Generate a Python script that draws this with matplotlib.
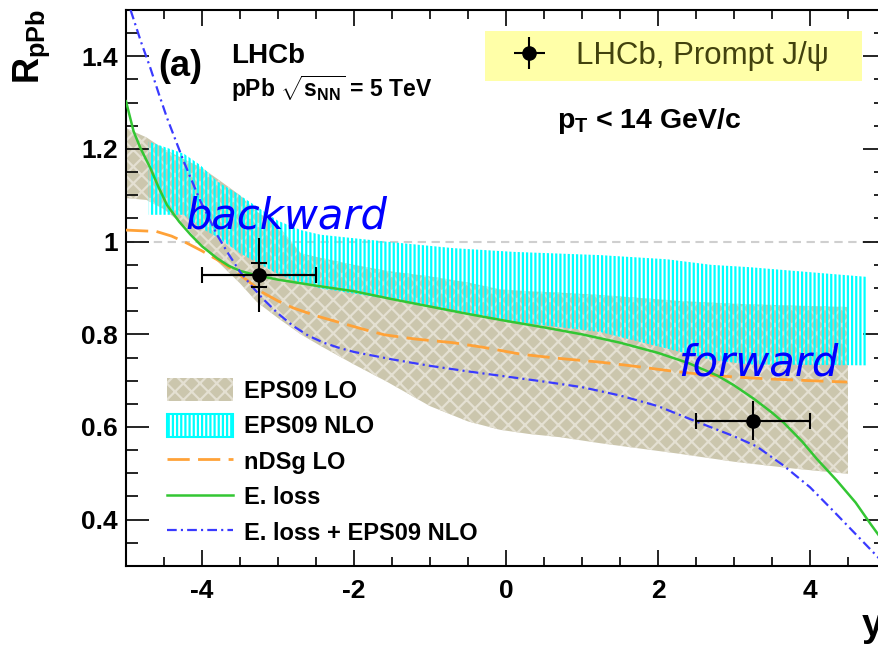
import numpy as np
import matplotlib
matplotlib.use('Agg')
import matplotlib.pyplot as plt
from matplotlib.patches import Patch
from matplotlib.lines import Line2D
from matplotlib.ticker import MultipleLocator, FuncFormatter

plt.rcParams['font.family'] = 'Liberation Sans'
plt.rcParams['font.weight'] = 'bold'
plt.rcParams['axes.unicode_minus'] = False
plt.rcParams['mathtext.fontset'] = 'custom'
plt.rcParams['mathtext.rm'] = 'Liberation Sans:bold'
plt.rcParams['mathtext.it'] = 'Liberation Sans:bold'
plt.rcParams['mathtext.bf'] = 'Liberation Sans:bold'
plt.rcParams['hatch.linewidth'] = 1.6
plt.rcParams['lines.scale_dashes'] = False

# LHCb prompt J/psi points
data_y = [-3.25, 3.25]
data_r = [0.928, 0.614]
data_ylo = [-4.0, 2.5]
data_yhi = [-2.5, 4.0]
err_tot = [0.08, 0.043]
err_stat = [0.025, 0.0]

# EPS09 LO band
lo_x = [-5.0, -4.73, -4.5, -4.2, -4.0, -3.75, -3.5, -3.28, -3.0, -2.7, -2.44, -2.0, -1.57,
        -1.0, -0.5, -0.08, 0.3, 0.71, 1.24, 2.29, 3.0, 3.8, 4.5]
lo_low = [1.094, 1.09, 1.07, 1.03, 0.99, 0.95, 0.91, 0.87, 0.835, 0.80, 0.775, 0.735, 0.698,
          0.645, 0.612, 0.594, 0.585, 0.578, 0.565, 0.542, 0.525, 0.51, 0.499]
lo_up = [1.245, 1.225, 1.20, 1.175, 1.159, 1.13, 1.10, 1.065, 1.035, 0.975, 0.965, 0.95, 0.937,
         0.925, 0.912, 0.897, 0.893, 0.89, 0.885, 0.872, 0.866, 0.862, 0.859]

# EPS09 NLO band
nlo_x = [-4.7, -4.24, -4.02, -3.8, -3.5, -3.0, -2.7, -2.44, -1.57, -0.69, 0.1, 1.24, 2.12, 2.7, 3.2, 4.75]
nlo_low = [1.058, 1.058, 1.03, 1.01, 0.975, 0.93, 0.91, 0.899, 0.877, 0.848, 0.827, 0.805, 0.769, 0.745, 0.735, 0.733]
nlo_up = [1.216, 1.19, 1.165, 1.13, 1.10, 1.045, 1.025, 1.015, 1.0, 0.986, 0.978, 0.971, 0.962, 0.95, 0.945, 0.924]

# nDSg LO
nds_x = [-5.0, -4.6, -4.4, -4.2, -4.0, -3.8, -3.6, -3.4, -3.2, -3.0, -2.8, -2.5, -2.2, -1.9, -1.6,
         -1.2, -0.7, -0.3, 0.2, 0.7, 1.24, 1.7, 2.12, 2.6, 3.0, 3.43, 4.0, 4.49]
nds_r = [1.025, 1.022, 1.012, 0.997, 0.98, 0.961, 0.94, 0.916, 0.89, 0.872, 0.857, 0.84, 0.826, 0.812, 0.799,
         0.79, 0.782, 0.772, 0.757, 0.748, 0.740, 0.731, 0.722, 0.713, 0.708, 0.704, 0.700, 0.697]

# E. loss
el_x = [-5.0, -4.9, -4.81, -4.68, -4.57, -4.46, -4.3, -4.15, -4.0, -3.8, -3.65, -3.5, -3.3, -3.0, -2.5,
        -2.0, -1.5, -1.0, -0.5, 0.0, 0.5, 1.0, 1.5, 2.0, 2.4, 2.78, 3.0, 3.26, 3.5, 3.65, 3.9, 4.09,
        4.35, 4.6, 4.8, 5.0]
el_r = [1.303, 1.238, 1.202, 1.159, 1.117, 1.079, 1.043, 1.015, 0.99, 0.964, 0.948, 0.937, 0.928, 0.918, 0.905,
        0.893, 0.876, 0.860, 0.844, 0.829, 0.815, 0.80, 0.782, 0.760, 0.738, 0.711, 0.69, 0.661, 0.631, 0.610,
        0.568, 0.531, 0.485, 0.437, 0.39, 0.345]

# E. loss + EPS09 NLO
eln_x = [-4.94, -4.8, -4.68, -4.57, -4.46, -4.35, -4.24, -4.13, -4.02, -3.9, -3.8, -3.65, -3.5, -3.35,
         -3.2, -3.0, -2.8, -2.6, -2.4, -2.2, -2.0, -1.5, -1.0, -0.5, 0.0, 0.5, 1.0, 1.5, 2.0, 2.5, 3.0,
         3.3, 3.65, 4.0, 4.3, 4.6, 4.9, 5.0]
eln_r = [1.50, 1.43, 1.375, 1.32, 1.267, 1.22, 1.173, 1.13, 1.087, 1.048, 1.014, 0.973, 0.935, 0.905,
         0.877, 0.845, 0.818, 0.797, 0.782, 0.771, 0.762, 0.746, 0.732, 0.720, 0.709, 0.698, 0.686, 0.668,
         0.645, 0.612, 0.580, 0.558, 0.517, 0.470, 0.420, 0.369, 0.318, 0.30]

tan = '#cbc6ad'
tan_pat = '#e4e0d2'

fig = plt.figure(figsize=(8.79, 6.45), dpi=100)
ax = fig.add_axes([126/879, 79/645, 760/879, 556/645])
ax.set_xlim(-5, 5)
ax.set_ylim(0.3, 1.5)

ax.axhline(1.0, color='#cfcfcf', lw=1.5, ls=(0, (6, 4)), zorder=0.5)

ax.fill_between(lo_x, lo_low, lo_up, facecolor=tan, edgecolor=tan_pat,
                hatch='xx', linewidth=0, zorder=1)
ax.fill_between(nlo_x, nlo_low, nlo_up, facecolor='none', edgecolor='#00ffff',
                hatch='||||', linewidth=0, zorder=2)

ax.plot(nds_x, nds_r, color='#ffa238', lw=2, dashes=(16, 6), zorder=3)
ax.plot(el_x, el_r, color='#33c633', lw=1.8, zorder=4)
ax.plot(eln_x, eln_r, color='#3a3aff', lw=1.6, dashes=(7, 3, 1.5, 3), zorder=5)

xerr = [np.array(data_y) - np.array(data_ylo), np.array(data_yhi) - np.array(data_y)]
ax.errorbar(data_y, data_r, yerr=err_stat, fmt='none', ecolor='black',
            elinewidth=1.5, capsize=6, capthick=1.5, zorder=6)
ax.errorbar(data_y, data_r, xerr=xerr, fmt='none', ecolor='black',
            elinewidth=1.5, capsize=6, capthick=1.5, zorder=6)
eb = ax.errorbar(data_y, data_r, xerr=xerr, yerr=err_tot, fmt='o', color='black',
                 ms=9.5, elinewidth=1.5, capsize=0, zorder=7)

ax.text(-4.22, 1.029, 'backward', color='#0000ff', fontsize=30, style='italic',
        fontweight='normal', family='DejaVu Sans', va='baseline', zorder=8)
ax.text(2.27, 0.711, 'forward', color='#0000ff', fontsize=30, style='italic',
        fontweight='normal', family='DejaVu Sans', va='baseline', zorder=8)

# axes style
for s in ax.spines.values():
    s.set_linewidth(1.5)
ax.xaxis.set_major_locator(MultipleLocator(2))
ax.xaxis.set_minor_locator(MultipleLocator(0.5))
ax.yaxis.set_major_locator(MultipleLocator(0.2))
ax.yaxis.set_minor_locator(MultipleLocator(0.05))
ax.yaxis.set_major_formatter(FuncFormatter(lambda v, p: f'{v:g}'))
ax.xaxis.set_major_formatter(FuncFormatter(lambda v, p: f'{v:g}'))
ax.tick_params(which='both', direction='in', top=True, right=True, width=1.2)
ax.tick_params(axis='x', which='major', length=11.5, labelsize=19, pad=9)
ax.tick_params(axis='x', which='minor', length=6.5)
ax.tick_params(axis='y', which='major', length=16.5, labelsize=19, pad=6)
ax.tick_params(axis='y', which='minor', length=8.6)

# legends
h_lo = Patch(facecolor=tan, edgecolor=tan_pat, hatch='xx', linewidth=0)
h_nlo = Patch(facecolor='white', edgecolor='#00ffff', hatch='||||', linewidth=1.5)
h_nds = Line2D([], [], color='#ffa238', lw=2, dashes=(16, 6))
h_el = Line2D([], [], color='#33c633', lw=1.8)
h_eln = Line2D([], [], color='#3a3aff', lw=1.6, dashes=(7, 3, 1.5, 3))
leg = ax.legend([h_lo, h_nlo, h_nds, h_el, h_eln],
                ['EPS09 LO', 'EPS09 NLO', 'nDSg LO', 'E. loss', 'E. loss + EPS09 NLO'],
                loc='upper left', bbox_to_anchor=(167/879, 1-378/645),
                bbox_transform=fig.transFigure, frameon=False, fontsize=17,
                handlelength=2.8, handleheight=1.15, handletextpad=0.45,
                labelspacing=0.46, borderpad=0, borderaxespad=0)
ax.add_artist(leg)

ax.legend([eb], ['LHCb, Prompt J/\u03c8'], loc='upper left',
          bbox_to_anchor=(485/879, 1-91/645, 377/879, 60/645),
          bbox_transform=fig.transFigure, mode='expand',
          prop={'family': 'Liberation Sans', 'weight': 'normal', 'size': 22.5},
          labelcolor='#42420e', facecolor='#ffffa8', edgecolor='none',
          framealpha=1, fancybox=False, handlelength=2.2, handletextpad=0.4,
          borderpad=0.32, borderaxespad=0)

# texts
fig.text(158/879, 1-76/645, '(a)', fontsize=26, va='baseline')
fig.text(231/879, 1-63/645, 'LHCb', fontsize=20, va='baseline')
fig.text(231/879, 1-97/645, r'pPb $\sqrt{s_{NN}}$ = 5 TeV', fontsize=16.5, va='baseline')
fig.text(557/879, 1-128/645, r'$p_T$ < 14 GeV/c', fontsize=20.5, va='baseline')

fig.text(12/879, 1-9/645, r'$R_{pPb}$', fontsize=26, rotation=90, ha='left', va='top')
fig.text(862/879, 1-636/645, 'y', fontsize=28, va='baseline')

fig.savefig('out.png', dpi=100)
